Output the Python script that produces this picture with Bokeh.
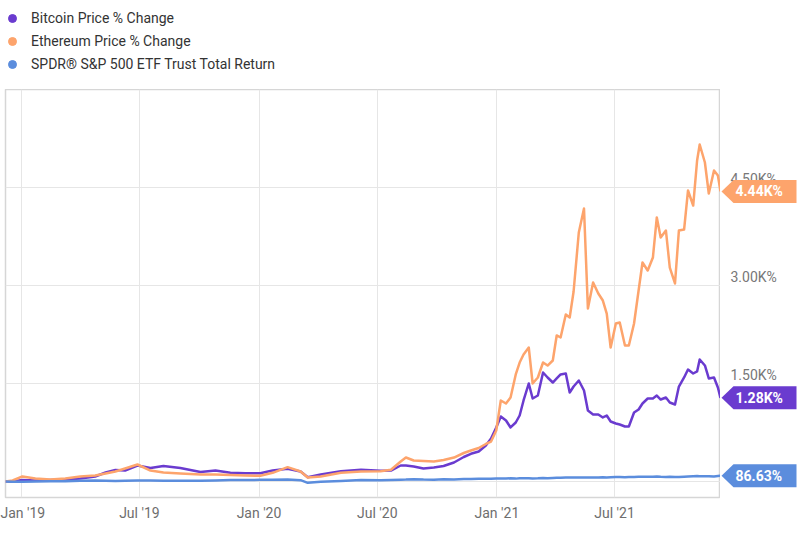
import pandas as pd
from bokeh.plotting import figure
from bokeh.layouts import column, row
from bokeh.models import FixedTicker, Legend, LegendItem, Range1d
from bokeh.core.properties import value
from bokeh.embed import file_html
from bokeh.resources import INLINE

# ---------------- data ----------------
dates = [
    "2018-12-07", "2018-12-18", "2019-01-02", "2019-01-22", "2019-02-14", "2019-03-09",
    "2019-04-01", "2019-04-24", "2019-05-10", "2019-05-25", "2019-06-09", "2019-06-28",
    "2019-07-18", "2019-08-07", "2019-09-02", "2019-10-03", "2019-10-26", "2019-11-18",
    "2019-12-11", "2020-01-03", "2020-01-22", "2020-02-14", "2020-03-05", "2020-03-16",
    "2020-04-05", "2020-05-06", "2020-06-06", "2020-07-06", "2020-07-22", "2020-08-06",
    "2020-08-14", "2020-08-26", "2020-09-10", "2020-09-26", "2020-10-11", "2020-10-27",
    "2020-11-11", "2020-11-22", "2020-12-04", "2020-12-15", "2020-12-23", "2020-12-31",
    "2021-01-07", "2021-01-15", "2021-01-22", "2021-01-30", "2021-02-05", "2021-02-11",
    "2021-02-19", "2021-02-25", "2021-03-05", "2021-03-13", "2021-03-20", "2021-03-28",
    "2021-04-03", "2021-04-09", "2021-04-17", "2021-04-23", "2021-04-29", "2021-05-07",
    "2021-05-15", "2021-05-21", "2021-05-29", "2021-06-06", "2021-06-13", "2021-06-19",
    "2021-06-25", "2021-07-03", "2021-07-09", "2021-07-17", "2021-07-23", "2021-07-31",
    "2021-08-07", "2021-08-13", "2021-08-21", "2021-08-29", "2021-09-04", "2021-09-10",
    "2021-09-18", "2021-09-24", "2021-10-02", "2021-10-08", "2021-10-16", "2021-10-22",
    "2021-10-30", "2021-11-05", "2021-11-09", "2021-11-17", "2021-11-23", "2021-12-01",
    "2021-12-07", "2021-12-11",
]

bitcoin = [
    0, 0, 23, 15, 23, 31,
    46, 77, 138, 176, 168, 245,
    207, 237, 207, 145, 168, 133,
    127, 127, 168, 194, 153, 66,
    107, 158, 179, 164, 168, 245,
    245, 230, 199, 214, 237, 291,
    375, 424, 459, 551, 658, 827,
    995, 934, 827, 903, 1010, 1240,
    1500, 1270, 1316, 1668, 1592, 1515,
    1577, 1638, 1653, 1362, 1454, 1546,
    1393, 1087, 1026, 1026, 980, 1010,
    918, 888, 872, 842, 842, 1056,
    1102, 1194, 1270, 1270, 1316, 1255,
    1286, 1209, 1179, 1454, 1592, 1714,
    1653, 1684, 1867, 1776, 1577, 1592,
    1439, 1280,
]

ethereum = [
    0, 15, 77, 46, 31, 46,
    77, 92, 122, 153, 199, 260,
    168, 138, 122, 107, 107, 100,
    92, 87, 133, 219, 153, 60,
    77, 133, 153, 158, 179, 306,
    367, 321, 314, 306, 329, 367,
    436, 474, 513, 574, 612, 781,
    1240, 1194, 1286, 1638, 1821, 1944,
    2051, 1500, 1592, 1821, 1775, 1852,
    2235, 2204, 2556, 2510, 2908, 3811,
    4178, 2648, 3046, 2878, 2770, 2571,
    2051, 2418, 2434, 2082, 2082, 2418,
    2923, 3352, 3230, 3428, 4041, 3735,
    3842, 3275, 3031, 3842, 3857, 4454,
    4224, 4913, 5158, 4883, 4408, 4760,
    4684, 4440,
]

spy = [
    0, -4, -4, 0, 4, 4,
    10, 14, 10, 8, 10, 15,
    17, 12, 13, 12, 17, 22,
    23, 25, 28, 31, 20, -20,
    -4, 8, 22, 20, 24, 28,
    30, 36, 29, 28, 35, 31,
    38, 38, 41, 41, 42, 45,
    47, 46, 49, 44, 50, 51,
    50, 47, 49, 53, 51, 54,
    57, 59, 61, 60, 62, 63,
    60, 60, 62, 63, 64, 61,
    65, 68, 68, 66, 69, 69,
    71, 72, 71, 74, 75, 72,
    70, 71, 68, 70, 74, 77,
    80, 83, 82, 82, 81, 78,
    84, 86.63,
]

series_names = ["Bitcoin Price % Change", "Ethereum Price % Change",
                "SPDR\u00ae S&P 500 ETF Trust Total Return"]
last_labels = ["1.28K%", "4.44K%", "86.63%"]

x_tick_dates = ["2019-01-01", "2019-07-01", "2020-01-01", "2020-07-01", "2021-01-01", "2021-07-01"]
x_tick_labels = ["Jan '19", "Jul '19", "Jan '20", "Jul '20", "Jan '21", "Jul '21"]
y_ticks = [1500, 3000, 4500]
y_tick_labels = ["1.50K%", "3.00K%", "4.50K%"]
y_grid_ticks = [0, 1500, 3000, 4500, 6000]

# ---------------- styling ----------------
BTC_C = "#6a3bcf"
ETH_C = "#fda46c"
SPY_C = "#5b8ddd"
colors = [BTC_C, ETH_C, SPY_C]
FONT = "Roboto"

TOP_H = 89            # legend strip height
FW, FH = 715, 408     # plot frame
LEFT = 5
BOTTOM = 40
SIDE_W = 79
YMIN, YMAX = -245, 6000

t = pd.to_datetime(dates)
to_ms = lambda ts: float(pd.Timestamp(ts).value // 10**6)
x_start, x_end = to_ms(t[0]), to_ms(t[-1])
y_range = Range1d(YMIN, YMAX)

# ---------------- legend strip ----------------
top = figure(width=LEFT + FW + SIDE_W, height=TOP_H, x_range=Range1d(0, 1), y_range=Range1d(0, 1),
             output_backend="svg", toolbar_location=None, x_axis_location=None,
             y_axis_location=None, min_border=0, outline_line_color=None)
top.xgrid.visible = False
top.ygrid.visible = False
items = []
nan = float("nan")
for name, c in zip(series_names, colors):
    # legend-only marker renderer (no visible point)
    r = top.scatter(x=[nan], y=[nan], fill_color=c, line_color=c, size=8)
    items.append(LegendItem(label=name, renderers=[r], index=0))
legend = Legend(items=items, location=(2, TOP_H - 8 - 66), orientation="vertical",
                label_text_font=FONT, label_text_font_size="14px", label_text_color="#333333",
                glyph_width=20, glyph_height=20, label_height=20, label_width=10,
                spacing=3, padding=0, margin=0, label_standoff=9,
                border_line_color=None, background_fill_alpha=0)
top.add_layout(legend, "center")

# ---------------- main chart ----------------
p = figure(frame_width=FW, frame_height=FH, x_axis_type="datetime",
           x_range=Range1d(x_start, x_end), y_range=y_range,
           output_backend="svg", toolbar_location=None, y_axis_location=None,
           min_border_left=LEFT, min_border_top=0, min_border_right=0, min_border_bottom=BOTTOM,
           background_fill_color="white", border_fill_color="white")
p.outline_line_color = "#d6d6d6"
p.outline_line_width = 1.5

tick_ms = [to_ms(d) for d in x_tick_dates]
p.xaxis.ticker = FixedTicker(ticks=tick_ms)
p.xaxis.major_label_overrides = {int(m): lab for m, lab in zip(tick_ms, x_tick_labels)}
p.xaxis.axis_line_color = None
p.xaxis.major_tick_line_color = None
p.xaxis.minor_tick_line_color = None
p.xaxis.major_label_text_font = FONT
p.xaxis.major_label_text_font_size = "14px"
p.xaxis.major_label_text_color = "#6e6e6e"
p.xaxis.major_label_standoff = 1

p.xgrid.ticker = FixedTicker(ticks=tick_ms)
p.xgrid.grid_line_color = "#e6e6e6"
p.ygrid.ticker = FixedTicker(ticks=y_grid_ticks)
p.ygrid.grid_line_color = "#e6e6e6"

for vals, c in zip([bitcoin, ethereum, spy], colors):
    p.line(t, vals, color=c, line_width=2.5, line_join="round")

# ---------------- right strip: y labels and end tags ----------------
side = figure(frame_width=SIDE_W, frame_height=FH, x_range=Range1d(0, SIDE_W), y_range=y_range,
              output_backend="svg", toolbar_location=None, x_axis_location=None,
              y_axis_location=None, min_border_left=0, min_border_right=0, min_border_top=0,
              min_border_bottom=BOTTOM, outline_line_color=None)
side.xgrid.visible = False
side.ygrid.visible = False

side.text(x=[0] * len(y_ticks), y=y_ticks, text=y_tick_labels, x_offset=10,
          text_align="left", text_baseline="bottom", text_font=value(FONT),
          text_font_size="14px", text_color="#777777")

dy = (YMAX - YMIN) / FH  # data units per pixel
for vals, lab, c in zip([bitcoin, ethereum, spy], last_labels, colors):
    v = vals[-1]
    h = 11.5 * dy
    side.patch(x=[1, 13, 76, 76, 13], y=[v, v + h, v + h, v - h, v - h],
               fill_color=c, line_color=None)
    side.text(x=[0], y=[v], text=[lab], x_offset=15, text_align="left",
              text_baseline="middle", text_font=value(FONT), text_font_size="14px",
              text_font_style="bold", text_color="white")

layout = column(top, row(p, side))
open("out.html", "w").write(file_html(layout, INLINE))
